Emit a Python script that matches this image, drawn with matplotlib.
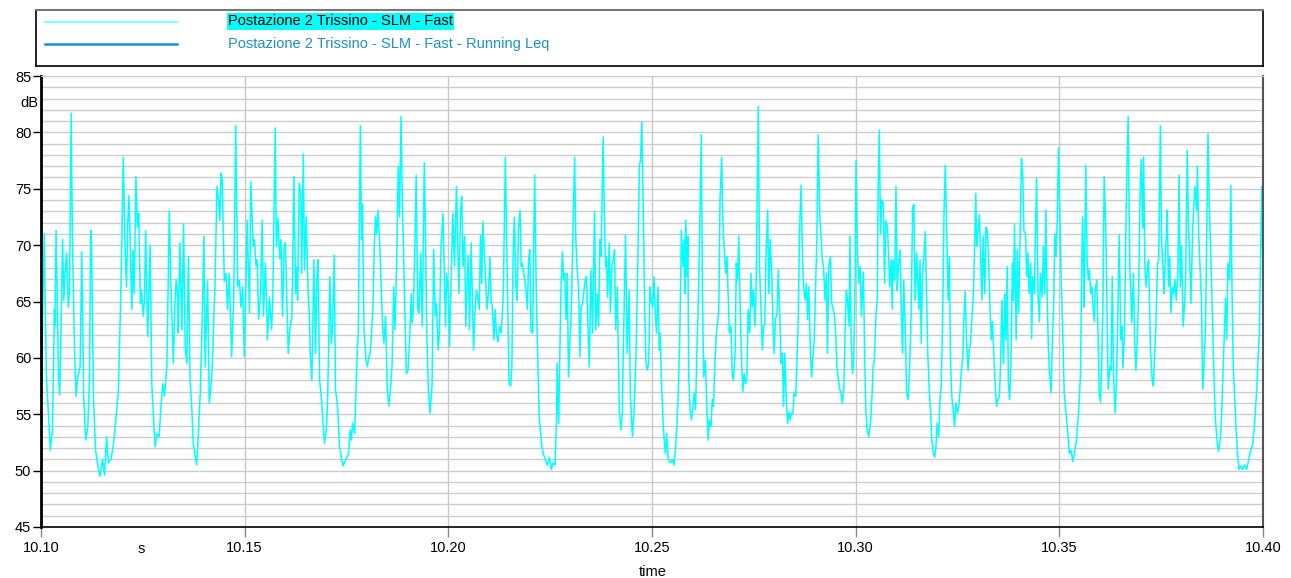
import matplotlib.pyplot as plt
import numpy as np

plt.rcParams['font.family'] = ['Liberation Sans', 'DejaVu Sans']

# SLM Fast level, one list per 50 ms window
# time in ms after 10.10 s, level in dB
t_w1 = [0.0, 0.8, 1.3, 2.3, 2.8, 3.3, 3.4, 3.7, 4.3, 4.6,
        4.9, 5.3, 5.6, 5.9, 6.3, 6.7, 7.0, 7.4, 7.7, 8.2,
        8.6, 9.0, 9.6, 10.0, 10.5, 11.0, 11.5, 11.9, 12.2, 12.4,
        12.9, 13.4, 14.1, 14.5, 15.1, 15.6, 16.1, 16.5, 17.2, 17.8,
        18.6, 19.0, 19.5, 19.8, 20.2, 20.6, 21.0, 21.3, 21.6, 21.9,
        22.3, 22.6, 22.9, 23.3, 23.7, 24.0, 24.4, 24.7, 25.1, 25.4,
        25.7, 26.2, 26.8, 27.2, 28.0, 28.5, 29.0, 29.4, 29.9, 30.3,
        30.9, 31.5, 31.9, 32.5, 32.9, 33.2, 33.6, 33.7, 34.1, 34.6,
        35.0, 35.4, 35.8, 36.2, 36.6, 37.0, 37.4, 38.2, 38.6, 39.1,
        39.5, 40.0, 40.3, 40.9, 41.3, 41.8, 42.1, 42.5, 42.7, 43.2,
        43.6, 43.9, 44.2, 44.5, 45.0, 45.4, 45.8, 46.2, 46.8, 47.3,
        47.8, 48.3, 48.7, 49.1, 49.5, 49.9, 50.3, 50.6]
db_w1 = [55.7, 71.0, 58.6, 51.8, 53.6, 64.3, 62.8, 71.3, 58.3, 56.7,
         62.2, 70.5, 65.1, 67.5, 69.3, 64.5, 66.0, 81.7, 71.0, 61.3,
         56.6, 58.3, 59.2, 69.4, 56.3, 52.7, 53.9, 58.3, 71.3, 70.2,
         56.3, 51.8, 50.1, 49.5, 51.0, 49.6, 53.0, 50.7, 51.0, 52.4,
         55.4, 57.2, 64.3, 69.6, 77.8, 70.2, 66.3, 71.9, 74.4, 69.9,
         64.3, 69.6, 65.7, 76.1, 71.6, 72.8, 64.8, 66.0, 63.7, 65.1,
         71.3, 61.9, 70.0, 57.7, 52.1, 53.3, 53.0, 55.4, 57.7, 56.6,
         59.2, 73.0, 66.3, 59.5, 65.1, 66.9, 65.1, 62.2, 70.2, 62.5,
         71.9, 61.0, 59.5, 69.0, 58.0, 55.7, 52.4, 50.5, 53.0, 56.9,
         62.2, 70.8, 59.2, 66.8, 56.0, 57.7, 59.8, 64.5, 66.3, 75.2,
         74.0, 72.2, 76.4, 75.8, 66.8, 67.5, 64.3, 67.5, 60.1, 65.1,
         80.6, 66.3, 66.9, 64.5, 66.3, 60.1, 66.6, 72.2]

t_w2 = [51.2, 51.5, 51.8, 52.1, 52.4, 52.8, 53.1, 53.4, 53.9, 54.3,
        54.6, 55.1, 55.6, 55.9, 56.1, 56.6, 56.9, 57.5, 57.8, 58.2,
        58.6, 58.9, 59.3, 59.7, 60.0, 60.3, 60.7, 61.1, 61.6, 62.1,
        62.5, 62.8, 63.0, 63.4, 63.8, 64.0, 64.4, 64.7, 65.1, 65.6,
        65.9, 66.1, 66.5, 67.0, 67.4, 67.7, 68.0, 68.4, 68.8, 69.2,
        69.6, 70.0, 70.3, 70.6, 70.9, 71.3, 71.6, 72.0, 72.3, 72.8,
        73.3, 73.8, 74.1, 74.6, 75.1, 75.5, 75.9, 76.2, 76.5, 77.0,
        77.4, 77.7, 77.9, 78.4, 78.7, 78.9, 79.3, 79.8, 80.1, 80.5,
        80.8, 81.1, 81.5, 81.8, 82.1, 82.4, 82.7, 83.1, 83.6, 83.9,
        84.2, 84.6, 85.0, 85.4, 85.8, 86.2, 86.6, 86.9, 87.3, 87.7,
        88.0, 88.4, 88.7, 89.0, 89.3, 89.7, 90.1, 90.5, 90.9, 91.1,
        91.4, 91.8, 92.1, 92.5, 92.8, 93.2, 93.6, 94.1, 94.4, 94.7,
        95.1, 95.5, 96.0, 96.4, 96.8, 97.1, 97.5, 97.8, 98.2, 98.7,
        98.9, 99.3, 99.6, 100.0, 100.3, 100.7, 101.1]
db_w2 = [64.0, 75.6, 72.8, 69.9, 70.5, 68.1, 68.7, 63.4, 65.7, 72.2,
         63.7, 68.4, 61.6, 64.0, 65.4, 62.5, 65.1, 80.4, 69.9, 72.4,
         68.8, 70.5, 63.7, 69.9, 70.2, 66.0, 60.4, 62.5, 63.7, 76.1,
         65.7, 68.1, 65.1, 75.5, 74.6, 67.5, 78.1, 67.8, 72.5, 65.7,
         63.7, 60.4, 58.0, 68.7, 60.4, 66.9, 68.7, 58.0, 56.6, 54.5,
         52.4, 53.6, 55.4, 60.4, 67.2, 61.3, 62.8, 69.1, 57.2, 55.7,
         52.1, 51.1, 50.4, 50.8, 51.2, 51.5, 53.6, 52.7, 54.2, 53.3,
         57.9, 61.0, 62.2, 80.6, 70.5, 73.6, 62.5, 59.8, 59.2, 60.1,
         60.4, 61.9, 64.5, 69.6, 72.5, 71.0, 73.1, 70.5, 65.4, 62.5,
         61.3, 63.7, 57.2, 55.7, 57.2, 59.5, 66.3, 62.5, 68.1, 77.0,
         72.5, 81.4, 74.0, 69.6, 64.5, 58.6, 58.9, 61.6, 65.7, 63.1,
         64.3, 69.9, 76.2, 64.3, 64.0, 69.3, 62.8, 77.3, 71.0, 62.2,
         57.2, 55.1, 57.5, 69.6, 63.7, 64.8, 60.7, 62.2, 69.9, 72.8,
         69.6, 62.8, 67.5, 65.7, 61.0, 67.2, 72.8]

t_w3 = [101.5, 102.0, 102.3, 102.6, 103.0, 103.3, 103.6, 104.0, 104.3, 104.6,
        104.9, 105.2, 105.6, 105.9, 106.2, 106.6, 106.9, 107.2, 107.6, 107.9,
        108.2, 108.5, 108.9, 109.2, 109.5, 109.9, 110.2, 110.5, 110.8, 111.2,
        111.5, 111.8, 112.2, 112.6, 113.0, 113.5, 114.0, 114.3, 114.6, 114.9,
        115.3, 115.6, 115.9, 116.2, 116.6, 116.9, 117.2, 117.6, 117.9, 118.2,
        118.5, 119.0, 119.4, 119.7, 120.0, 120.3, 120.7, 121.0, 121.2, 121.6,
        122.0, 122.3, 122.6, 123.0, 123.3, 123.8, 124.3, 124.8, 125.3, 125.7,
        126.2, 126.6, 126.7, 127.1, 127.4, 127.7, 128.0, 128.3, 128.6, 128.9,
        129.2, 129.5, 129.8, 130.2, 130.5, 131.0, 131.3, 131.6, 132.0, 132.3,
        132.6, 133.0, 133.3, 133.6, 133.9, 134.3, 134.6, 135.0, 135.4, 135.9,
        136.2, 136.6, 136.9, 137.2, 137.5, 138.0, 138.3, 138.6, 138.8, 139.1,
        139.5, 139.8, 140.2, 140.5, 140.8, 141.1, 141.5, 141.7, 142.0, 142.4,
        142.7, 143.0, 143.5, 143.9, 144.4, 144.7, 145.2, 145.6, 146.1, 146.5,
        146.9, 147.2, 147.5, 147.9, 148.2, 148.5, 148.8, 149.2, 149.5, 149.8,
        150.2, 150.5, 150.8, 151.1, 151.5, 151.8]
db_w3 = [68.1, 75.2, 70.5, 65.7, 73.1, 74.3, 68.1, 70.8, 62.8, 66.6,
         69.1, 62.5, 70.2, 65.1, 60.7, 64.5, 66.0, 65.4, 64.3, 70.9,
         66.6, 72.1, 68.7, 66.6, 64.3, 66.0, 69.0, 65.1, 64.5, 61.6,
         64.3, 62.2, 61.4, 62.8, 62.2, 65.7, 77.8, 71.0, 64.5, 57.7,
         57.5, 59.2, 69.0, 72.5, 66.3, 65.1, 71.3, 73.1, 68.1, 68.4,
         67.5, 66.3, 64.3, 68.7, 69.6, 62.3, 62.2, 71.3, 76.2, 65.4,
         59.5, 54.8, 53.6, 52.1, 51.5, 51.0, 50.5, 51.2, 50.1, 50.7,
         50.5, 55.1, 59.5, 54.2, 61.0, 66.6, 69.4, 66.9, 67.5, 63.4,
         67.5, 58.3, 61.0, 64.3, 69.3, 77.8, 70.5, 68.1, 66.0, 60.1,
         64.5, 64.8, 66.0, 66.9, 67.2, 62.5, 59.2, 67.8, 62.2, 73.0,
         62.5, 65.7, 62.8, 70.5, 69.0, 79.6, 72.5, 68.1, 69.0, 65.4,
         70.2, 64.0, 68.4, 68.7, 69.6, 62.5, 66.3, 61.0, 55.1, 53.6,
         55.1, 61.3, 70.9, 60.4, 66.0, 56.6, 53.0, 55.1, 60.7, 68.1,
         77.0, 77.6, 80.9, 72.2, 64.5, 59.8, 58.9, 59.5, 66.3, 65.1,
         64.5, 67.2, 64.0, 62.2, 66.3, 60.7]

t_w4 = [152.0, 152.3, 152.7, 153.0, 153.3, 153.6, 154.0, 154.5, 155.0, 155.4,
        155.8, 156.1, 156.4, 156.8, 157.1, 157.2, 157.6, 157.9, 158.1, 158.3,
        158.6, 158.8, 159.0, 159.4, 159.7, 160.0, 160.4, 160.7, 161.0, 161.3,
        161.7, 162.1, 162.4, 162.7, 163.1, 163.4, 163.8, 164.1, 164.5, 164.8,
        165.1, 165.4, 165.8, 166.1, 166.4, 166.7, 167.1, 167.4, 167.7, 168.1,
        168.4, 168.7, 169.0, 169.4, 169.7, 170.0, 170.4, 170.7, 171.0, 171.3,
        171.7, 172.0, 172.3, 172.6, 173.0, 173.3, 173.6, 174.0, 174.3, 174.6,
        174.9, 175.3, 175.6, 176.1, 176.4, 176.7, 177.1, 177.4, 177.7, 178.0,
        178.4, 178.7, 179.0, 179.4, 179.7, 180.0, 180.3, 180.7, 181.0, 181.3,
        181.7, 182.0, 182.3, 182.6, 183.0, 183.3, 183.6, 183.9, 184.3, 184.6,
        184.9, 185.3, 185.6, 185.9, 186.2, 186.6, 186.9, 187.2, 187.6, 187.9,
        188.2, 188.5, 188.9, 189.2, 189.5, 189.8, 190.2, 190.5, 190.8, 191.2,
        191.5, 191.8, 192.1, 192.5, 192.8, 193.1, 193.4, 193.8, 194.1, 194.4,
        194.8, 195.1, 195.4, 195.7, 196.1, 196.4, 196.7, 197.1, 197.4, 197.7,
        198.0, 198.4, 198.6, 198.9, 199.2, 199.5, 199.8, 200.1, 200.4, 200.7,
        201.1, 201.4]
db_w4 = [62.2, 58.3, 54.5, 52.7, 51.5, 53.3, 51.0, 50.7, 51.0, 50.5,
         52.1, 53.9, 56.3, 61.6, 68.1, 71.3, 68.1, 70.5, 65.7, 72.2,
         67.2, 70.8, 58.6, 55.1, 54.5, 55.4, 56.9, 55.4, 60.4, 64.0,
         71.0, 79.8, 65.1, 58.3, 59.8, 56.3, 52.7, 54.5, 53.9, 56.3,
         55.7, 59.2, 62.2, 63.1, 64.3, 74.0, 77.8, 71.9, 69.9, 67.5,
         69.0, 65.7, 62.2, 62.8, 58.6, 58.0, 60.4, 68.4, 66.9, 70.8,
         63.7, 59.8, 57.0, 58.6, 57.7, 58.3, 64.3, 62.2, 67.5, 64.5,
         66.0, 62.8, 67.2, 82.3, 68.1, 64.8, 60.7, 62.8, 63.1, 69.3,
         73.1, 65.7, 70.5, 67.5, 62.8, 60.4, 63.4, 64.0, 67.8, 64.5,
         59.5, 60.4, 55.7, 60.4, 56.0, 54.2, 55.2, 54.5, 55.1, 55.1,
         56.9, 56.6, 59.8, 63.4, 71.0, 75.3, 69.6, 66.3, 65.1, 66.6,
         63.4, 66.3, 60.4, 58.3, 60.1, 61.3, 66.9, 71.0, 79.8, 72.5,
         70.8, 68.7, 68.1, 65.1, 67.5, 60.4, 68.1, 69.0, 64.8, 64.5,
         63.7, 62.2, 59.2, 58.3, 57.2, 56.9, 56.0, 57.2, 62.2, 66.0,
         65.1, 62.8, 70.8, 61.6, 58.6, 59.5, 65.1, 77.5, 70.5, 66.6,
         68.1, 63.7]

t_w5 = [201.9, 202.2, 202.5, 202.8, 203.2, 203.7, 204.0, 204.3, 204.6, 205.0,
        205.3, 205.5, 205.8, 206.1, 206.4, 206.8, 207.1, 207.4, 207.8, 208.1,
        208.4, 208.7, 209.0, 209.2, 209.6, 209.9, 210.2, 210.5, 210.9, 211.2,
        211.5, 211.8, 212.2, 212.5, 212.9, 213.3, 213.6, 214.0, 214.3, 214.6,
        215.0, 215.3, 215.5, 215.8, 216.1, 216.4, 216.8, 217.1, 217.4, 217.7,
        218.1, 218.4, 218.7, 219.1, 219.4, 219.7, 220.0, 220.4, 220.7, 221.0,
        221.3, 221.7, 222.0, 222.3, 222.7, 223.0, 223.3, 223.6, 224.0, 224.3,
        224.6, 225.0, 225.3, 225.6, 225.9, 226.3, 226.6, 226.9, 227.2, 227.6,
        227.9, 228.2, 228.6, 228.9, 229.2, 229.5, 229.7, 230.0, 230.4, 230.7,
        231.0, 231.3, 231.7, 232.0, 232.3, 232.6, 233.0, 233.3, 233.6, 234.0,
        234.3, 234.6, 234.9, 235.3, 235.6, 235.9, 236.3, 236.6, 236.9, 237.2,
        237.5, 237.8, 238.1, 238.5, 238.7, 239.0, 239.4, 239.7, 240.0, 240.3,
        240.7, 241.0, 241.3, 241.7, 242.0, 242.3, 242.6, 243.0, 243.2, 243.5,
        243.9, 244.1, 244.4, 244.8, 245.1, 245.4, 245.8, 246.1, 246.4, 246.7,
        247.0, 247.3, 247.6, 248.0, 248.3, 248.6, 248.9, 249.2, 249.5, 249.8,
        250.2, 250.5, 250.8, 251.2, 251.5, 251.8, 252.1, 252.5]
db_w5 = [67.6, 60.4, 55.4, 53.6, 53.0, 54.5, 56.6, 59.2, 59.8, 64.0,
         65.1, 74.6, 80.2, 71.0, 74.0, 73.7, 66.6, 72.2, 71.6, 69.0,
         66.3, 68.7, 64.3, 68.7, 66.9, 75.2, 66.0, 68.1, 69.6, 64.5,
         60.4, 66.9, 62.2, 56.9, 56.3, 59.8, 63.7, 73.4, 73.6, 65.1,
         69.3, 66.3, 64.3, 68.7, 61.3, 67.5, 69.3, 71.2, 65.7, 60.4,
         56.9, 55.1, 52.7, 51.5, 51.2, 52.1, 54.2, 53.0, 56.3, 57.5,
         62.2, 73.1, 77.1, 72.2, 65.1, 69.0, 59.5, 56.6, 55.1, 53.9,
         56.0, 55.1, 55.7, 56.9, 58.6, 60.1, 63.7, 65.9, 61.6, 58.9,
         60.7, 61.3, 64.0, 65.7, 69.9, 74.6, 69.9, 71.0, 72.7, 68.7,
         65.1, 70.8, 65.7, 71.6, 71.3, 69.0, 64.3, 61.6, 63.2, 59.5,
         57.2, 55.7, 56.3, 56.6, 59.8, 65.1, 59.5, 65.7, 61.6, 68.1,
         57.7, 56.3, 59.2, 68.4, 65.1, 71.8, 61.6, 69.6, 64.0, 69.3,
         77.7, 76.4, 71.3, 71.0, 67.2, 69.3, 65.7, 68.4, 61.7, 67.2,
         65.7, 70.5, 75.9, 65.4, 63.2, 67.5, 65.4, 69.9, 65.7, 73.1,
         65.7, 61.0, 58.6, 56.9, 61.6, 64.5, 71.0, 69.0, 72.5, 78.6,
         71.6, 66.3, 62.8, 56.9, 55.7, 54.5, 53.3, 51.5]

t_w6 = [252.9, 253.3, 253.8, 254.2, 254.6, 254.9, 255.2, 255.5, 255.7, 256.1,
        256.2, 256.5, 256.8, 257.1, 257.4, 257.7, 258.0, 258.3, 258.6, 258.8,
        259.2, 259.5, 259.8, 260.1, 260.4, 260.7, 261.0, 261.4, 261.7, 262.0,
        262.4, 262.7, 263.0, 263.3, 263.7, 264.0, 264.3, 264.7, 265.1, 265.4,
        265.6, 266.0, 266.3, 266.6, 266.9, 267.3, 267.6, 267.8, 268.2, 268.5,
        268.8, 269.2, 269.5, 269.8, 270.1, 270.5, 270.7, 271.0, 271.3, 271.6,
        271.9, 272.1, 272.4, 272.8, 273.1, 273.4, 273.7, 274.1, 274.4, 274.8,
        275.1, 275.5, 275.7, 276.0, 276.3, 276.5, 276.8, 277.1, 277.4, 277.8,
        278.1, 278.4, 278.7, 279.1, 279.4, 279.7, 280.0, 280.4, 280.7, 281.0,
        281.4, 281.7, 282.0, 282.3, 282.7, 283.0, 283.3, 283.7, 283.9, 284.2,
        284.6, 284.9, 285.2, 285.5, 285.9, 286.2, 286.5, 286.8, 287.2, 287.5,
        287.8, 288.2, 288.5, 288.8, 289.1, 289.5, 289.8, 290.1, 290.5, 290.8,
        291.1, 291.4, 291.8, 292.1, 292.4, 292.7, 293.1, 293.4, 293.7, 294.1,
        294.5, 295.0, 295.5, 296.0, 296.5, 297.0, 297.5, 297.8, 298.1, 298.5,
        298.8, 299.1, 299.5, 299.7, 300.0]
db_w6 = [51.8, 50.8, 51.8, 52.7, 54.5, 56.3, 58.6, 68.1, 72.5, 64.5,
         68.1, 77.1, 69.0, 66.9, 67.8, 65.7, 66.3, 64.5, 63.2, 66.0,
         66.9, 62.2, 56.9, 56.1, 59.2, 64.5, 76.1, 71.6, 64.5, 57.2,
         59.2, 58.9, 67.2, 58.6, 55.1, 57.7, 62.5, 70.9, 61.6, 62.8,
         59.1, 62.2, 70.5, 77.0, 81.4, 68.1, 65.1, 63.1, 67.5, 61.3,
         58.9, 62.2, 66.6, 74.0, 77.6, 71.5, 77.8, 68.1, 66.3, 67.8,
         68.7, 65.7, 60.4, 58.0, 57.5, 60.4, 62.8, 68.4, 68.7, 80.6,
         70.5, 67.5, 65.7, 69.0, 71.0, 73.1, 66.3, 69.0, 64.0, 66.3,
         65.7, 66.9, 65.1, 67.5, 76.2, 66.3, 69.9, 62.8, 64.5, 67.2,
         78.4, 71.6, 69.0, 64.8, 71.0, 73.4, 75.2, 73.1, 77.0, 71.0,
         67.5, 65.1, 57.2, 59.2, 62.8, 71.6, 79.9, 74.0, 69.0, 64.8,
         60.7, 55.4, 53.6, 52.4, 51.7, 52.7, 54.5, 57.7, 62.2, 65.3,
         61.6, 68.4, 66.9, 75.3, 66.0, 59.2, 56.0, 53.6, 51.8, 50.1,
         50.4, 50.1, 50.5, 50.1, 51.0, 51.8, 52.4, 53.6, 55.1, 57.5,
         60.1, 62.2, 70.5, 75.2, 66.9]

x_ticks = [10.10, 10.15, 10.20, 10.25, 10.30, 10.35, 10.40]
x_labels = ['10.10', '10.15', '10.20', '10.25', '10.30', '10.35', '10.40']
y_ticks = [45, 50, 55, 60, 65, 70, 75, 80, 85]
legend_labels = ['Postazione 2 Trissino - SLM - Fast',
                 'Postazione 2 Trissino - SLM - Fast - Running Leq']

t_ms = np.concatenate([t_w1, t_w2, t_w3, t_w4, t_w5, t_w6])
level = np.concatenate([db_w1, db_w2, db_w3, db_w4, db_w5, db_w6])
t = 10.10 + t_ms / 1000.0

W, H = 1291, 578
fig = plt.figure(figsize=(W / 100, H / 100), dpi=100)

# main plot
ax = fig.add_axes([41 / W, 1 - 527 / H, (1263 - 41) / W, (527 - 76) / H])
ax.plot(t, level, color='#00ffff', lw=1.1)
ax.set_xlim(10.10, 10.40)
ax.set_ylim(45, 85)
ax.set_xticks(x_ticks)
ax.set_xticklabels(x_labels)
ax.set_yticks(y_ticks)
ax.set_yticks(np.arange(45, 86, 1), minor=True)
ax.grid(axis='y', which='both', color='#cccccc', lw=1)
ax.grid(axis='x', which='major', color='#c8c8c8', lw=1)
ax.set_axisbelow(True)
ax.tick_params(axis='y', which='minor', length=0)
ax.tick_params(axis='y', which='major', direction='out', length=6, width=1,
               color='black', labelsize=10.5, pad=1)
ax.tick_params(axis='x', which='major', direction='out', length=7, width=1,
               color='#888888', labelsize=10.5, pad=3)
ax.spines['left'].set_linewidth(2)
ax.spines['bottom'].set_linewidth(1.2)
ax.spines['right'].set_color('#555555')
ax.spines['right'].set_linewidth(1.5)
ax.spines['top'].set_color('#cccccc')

fig.text(29 / W, 1 - 103 / H, 'dB', ha='center', va='center', fontsize=10.5)
fig.text(141 / W, 1 - 549 / H, 's', ha='center', va='center', fontsize=10.5)
fig.text(653 / W, 1 - 572 / H, 'time', ha='center', va='center', fontsize=10.5)

# legend box
lax = fig.add_axes([36 / W, 1 - 66 / H, (1263 - 36) / W, (66 - 10) / H])
lax.set_xlim(0, 1)
lax.set_ylim(0, 1)
lax.set_xticks([])
lax.set_yticks([])
for s in ['left', 'right', 'bottom']:
    lax.spines[s].set_linewidth(1.2)
lax.spines['top'].set_color('#777777')
lax.spines['top'].set_linewidth(1.5)
lax.plot([0.0075, 0.115], [0.785, 0.785], color='#66ffff', lw=1.2)
lax.plot([0.0075, 0.115], [0.39, 0.39], color='#1f8fc8', lw=1.8)
t1 = lax.text(0.1565, 0.80, legend_labels[0], ha='left', va='center',
              fontsize=10.5, color='black')
t1.set_bbox(dict(facecolor='#00ffff', edgecolor='none', pad=1))
lax.text(0.1565, 0.40, legend_labels[1], ha='left', va='center',
         fontsize=10.5, color='#1f8fc8')

fig.savefig('out.png', dpi=100)
